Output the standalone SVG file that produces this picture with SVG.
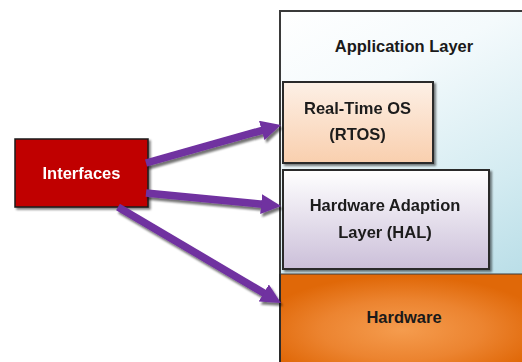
<svg xmlns="http://www.w3.org/2000/svg" width="522" height="362" viewBox="0 0 522 362">
  <defs>
    <style>
      .lbl { font-family: "Liberation Sans", Arial, sans-serif; font-weight: bold; font-size: 16.5px; fill: #1a1a1a; text-anchor: middle; }
      .lbl-w { fill: #ffffff; }
      .box { stroke: #2b2b2b; stroke-width: 2; }
      .arrow { fill: none; stroke: #7030a0; stroke-width: 7.5; }
    </style>
    <linearGradient id="appFill" x1="0" y1="0" x2="0.35" y2="1">
      <stop offset="0" stop-color="#ffffff"/>
      <stop offset="0.3" stop-color="#f4fafc"/>
      <stop offset="0.7" stop-color="#d3ebf1"/>
      <stop offset="1" stop-color="#b6dce6"/>
    </linearGradient>
    <linearGradient id="rtosFill" x1="0" y1="0" x2="0" y2="1">
      <stop offset="0" stop-color="#fdf0e6"/>
      <stop offset="1" stop-color="#f9cfae"/>
    </linearGradient>
    <linearGradient id="halFill" x1="0" y1="0" x2="0" y2="1">
      <stop offset="0" stop-color="#ffffff"/>
      <stop offset="1" stop-color="#cbbfd9"/>
    </linearGradient>
    <radialGradient id="hwFill" cx="0.5" cy="0.62" r="0.6">
      <stop offset="0" stop-color="#f59c4e"/>
      <stop offset="0.55" stop-color="#ec8430"/>
      <stop offset="1" stop-color="#e06808"/>
    </radialGradient>
    <filter id="shadow" x="-10%" y="-10%" width="130%" height="130%">
      <feGaussianBlur in="SourceAlpha" stdDeviation="1"/>
      <feOffset dx="2" dy="2" result="b"/>
      <feComponentTransfer><feFuncA type="linear" slope="0.5"/></feComponentTransfer>
      <feMerge><feMergeNode/><feMergeNode in="SourceGraphic"/></feMerge>
    </filter>
    <filter id="arrowShadow" x="-10%" y="-20%" width="130%" height="150%">
      <feGaussianBlur in="SourceAlpha" stdDeviation="1.2"/>
      <feOffset dx="2" dy="3" result="b"/>
      <feComponentTransfer><feFuncA type="linear" slope="0.55"/></feComponentTransfer>
      <feMerge><feMergeNode/><feMergeNode in="SourceGraphic"/></feMerge>
    </filter>
    <!-- tip sits 14px past the line end -->
    <marker id="head" viewBox="0 0 20 20" refX="6" refY="10" markerWidth="20" markerHeight="20" markerUnits="userSpaceOnUse" orient="auto">
      <path d="M0,0 L20,10 L0,20 z" fill="#7030a0"/>
    </marker>
  </defs>

  <rect width="522" height="362" fill="#ffffff"/>

  <!-- software stack -->
  <g id="application-layer">
    <rect x="280" y="11" width="244" height="360" fill="url(#appFill)" stroke="#3a3a3a" stroke-width="2"/>
    <text class="lbl" x="404" y="52">Application Layer</text>
  </g>

  <g id="rtos" filter="url(#shadow)">
    <rect class="box" x="283" y="82" width="150" height="81" fill="url(#rtosFill)"/>
    <text class="lbl" x="357.5" y="114">Real-Time OS</text>
    <text class="lbl" x="357.5" y="140">(RTOS)</text>
  </g>

  <g id="hal" filter="url(#shadow)">
    <rect class="box" x="283" y="170" width="206" height="99" fill="url(#halFill)"/>
    <text class="lbl" x="385" y="211">Hardware Adaption</text>
    <text class="lbl" x="385" y="238">Layer (HAL)</text>
  </g>

  <g id="hardware">
    <rect x="280" y="274" width="244" height="90" fill="url(#hwFill)" stroke="#3a3a3a" stroke-width="1"/>
    <line x1="280" y1="274" x2="280" y2="362" stroke="#2b2b2b" stroke-width="2"/>
    <text class="lbl" x="404" y="323">Hardware</text>
  </g>

  <g id="interfaces" filter="url(#shadow)">
    <rect x="15" y="139" width="133" height="68" fill="#c00000" stroke="#1a1a1a" stroke-width="1.5"/>
    <text class="lbl lbl-w" x="81.5" y="179">Interfaces</text>
  </g>

  <!-- connectors -->
  <g id="connectors" filter="url(#arrowShadow)">
    <line class="arrow" x1="146" y1="163" x2="267.5" y2="128.8" marker-end="url(#head)"/>
    <line class="arrow" x1="146" y1="193" x2="267.1" y2="204.7" marker-end="url(#head)"/>
    <line class="arrow" x1="118" y1="207" x2="268.9" y2="296" marker-end="url(#head)"/>
  </g>
</svg>
